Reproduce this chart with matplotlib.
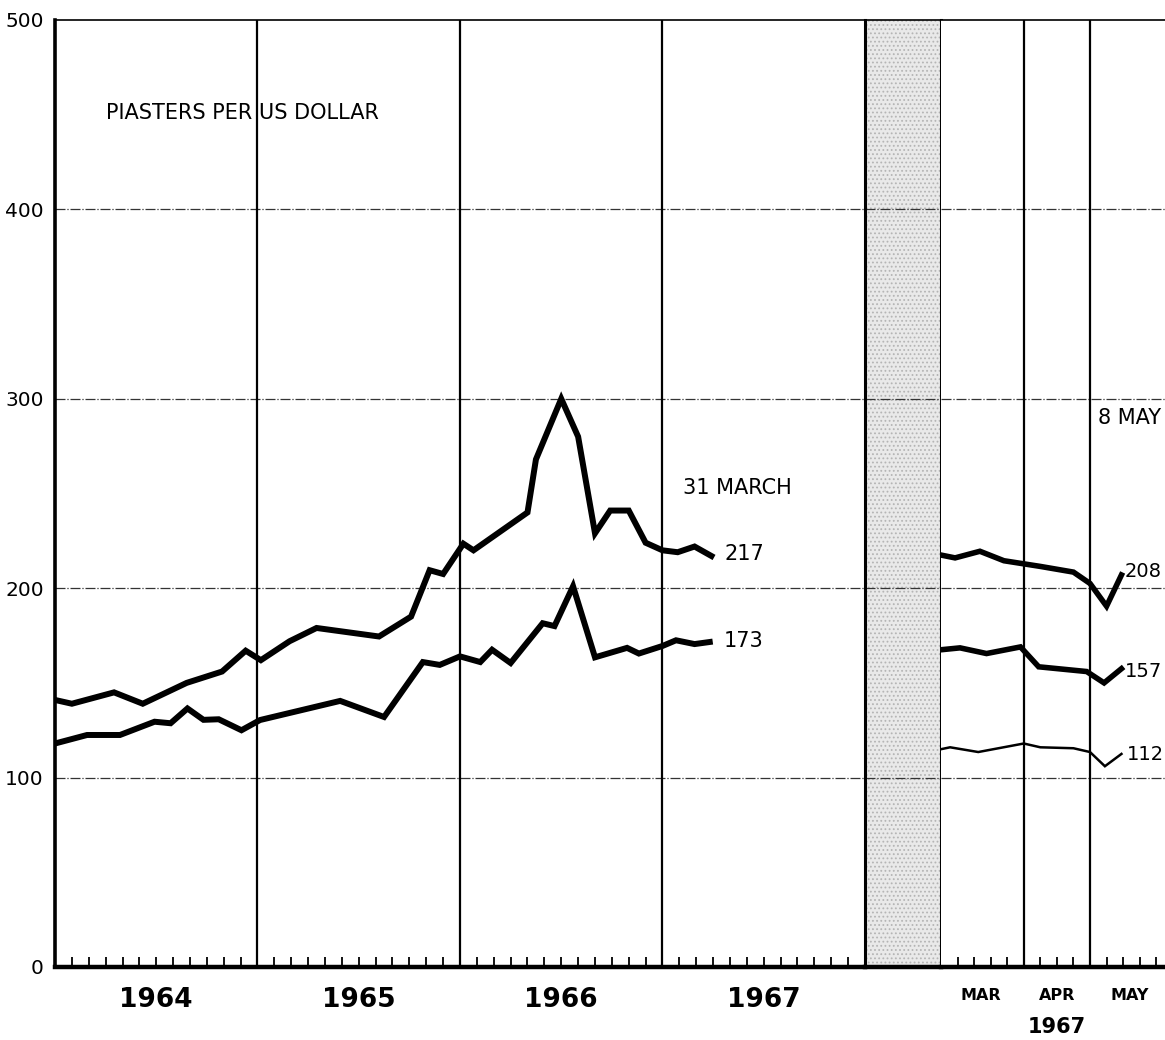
import matplotlib
matplotlib.use("Agg")
import matplotlib.pyplot as plt
import matplotlib.transforms as mtransforms

# ---- data ----------------------------------------------------------------
# left panel: months since Jan 1964
upper_months = [0, 1, 3.5, 5.2, 7.8, 9.9, 11.3, 12.2, 13.9, 15.5, 19.2, 21.1, 22.2, 23.0,
                24.2, 24.8, 28.0, 28.5, 30.0, 31.0, 32.0, 32.9, 34.0, 35.0, 36.0, 36.9,
                37.9, 38.9]
upper_vals = [141, 139, 145, 139, 150, 156, 167, 162, 172, 179, 174.5, 185, 209.5, 207.5,
              223.5, 220, 240, 268, 300, 280, 229, 241, 241, 224, 220, 219, 222, 217]
lower_months = [0, 1.9, 3.85, 5.9, 6.85, 7.85, 8.8, 9.7, 11.05, 12.15, 16.9, 19.5, 21.8,
                22.8, 24.0, 25.2, 25.9, 27.0, 28.9, 29.6, 30.7, 32.0, 33.9, 34.6, 36.0,
                36.8, 37.9, 38.8]
lower_vals = [118, 122.5, 122.5, 129.5, 128.7, 136.5, 130.5, 130.8, 125, 130.4, 140.5,
              132, 161, 159.5, 164, 161, 167.5, 160.5, 181.5, 180, 201, 163.5, 168.5,
              165.5, 169.5, 172.5, 170.5, 171.6]
left_end_labels = ["217", "173"]

# right panel: weeks since 1 March 1967
wk_upper = [0, 0.85, 2.35, 3.8, 6.0, 8.0, 9.0, 10.0, 10.9]
wk_upper_vals = [217.5, 216, 219.5, 214.5, 211.5, 208.5, 202.5, 190.5, 207]
wk_mid = [0, 1.15, 2.75, 4.8, 5.9, 8.8, 9.85, 10.9]
wk_mid_vals = [167.5, 168.5, 165.5, 169, 158.5, 156, 150, 157.5]
wk_low = [0, 0.55, 2.25, 5.0, 6.0, 8.0, 9.0, 9.9, 10.9]
wk_low_vals = [115, 116, 113.5, 118, 116, 115.5, 113.5, 106, 112.5]
right_end_labels = ["208", "157", "112"]

year_labels = ["1964", "1965", "1966", "1967"]
year_pos = [6, 18, 30, 42]
month_labels = ["MAR", "APR", "MAY"]
month_pos = [2.4, 7.0, 11.4]
y_ticks = [0, 100, 200, 300, 400, 500]

# ---- figure --------------------------------------------------------------
W, H = 1165, 1040
fig = plt.figure(figsize=(W / 100, H / 100), dpi=100)
plt.rcParams["hatch.color"] = "#8a8a8a"
plt.rcParams["hatch.linewidth"] = 0.8

bot, top = 73 / H, (H - 20) / H
ax1 = fig.add_axes([55 / W, bot, 810 / W, top - bot])
axb = fig.add_axes([865 / W, bot, 76 / W, top - bot])
ax2 = fig.add_axes([941 / W, bot, 224 / W, top - bot])

font = "DejaVu Sans"

for ax in (ax1, axb, ax2):
    ax.set_ylim(0, 500)
    for s in ax.spines.values():
        s.set_color("black")
    ax.spines["top"].set_linewidth(1.2)
    ax.spines["bottom"].set_linewidth(3.2)
    for yv in y_ticks[1:-1]:
        ax.axhline(yv, color="#333333", lw=0.9, ls=(0, (8, 1.5, 1, 1.5)), zorder=1)

# left panel
ax1.set_xlim(0, 48)
ax1.spines["left"].set_linewidth(2.6)
ax1.spines["right"].set_visible(False)
for yr in range(1, 4):
    ax1.axvline(12 * yr, color="black", lw=1.6, zorder=2)
ax1.plot(upper_months, upper_vals, color="black", lw=4.3, solid_joinstyle="miter",
         zorder=3)
ax1.plot(lower_months, lower_vals, color="black", lw=4.3, solid_joinstyle="miter",
         zorder=3)
ax1.set_xticks(range(1, 48))
ax1.tick_params(axis="x", direction="in", length=7, width=1.3, labelbottom=False)
t1 = mtransforms.blended_transform_factory(ax1.transData, fig.transFigure)
for xp, lab in zip(year_pos, year_labels):
    ax1.text(xp, 40 / H, lab, transform=t1, fontsize=19, fontweight="bold",
             family=font, ha="center", va="center")
ax1.set_yticks(y_ticks)
ax1.set_yticklabels([str(v) for v in y_ticks], fontsize=14.5, family=font)
ax1.tick_params(axis="y", length=0, pad=8)

ax1.text(3.0, 451, "PIASTERS PER US DOLLAR", fontsize=15, family=font,
         va="center", ha="left")
ax1.text(37.2, 253, "31 MARCH", fontsize=15, family=font, va="center", ha="left")
ax1.text(39.7, upper_vals[-1] + 1, left_end_labels[0], fontsize=15, family=font,
         va="center", ha="left")
ax1.text(39.6, lower_vals[-1] + 0.5, left_end_labels[1], fontsize=15, family=font,
         va="center", ha="left")

# gap band
axb.set_xlim(0, 1)
axb.axvspan(0, 1, facecolor="#e9e9e9", hatch="....", edgecolor="#b5b5b5", lw=0,
            zorder=0)
axb.spines["left"].set_linewidth(2.2)
axb.spines["right"].set_linewidth(2.2)
axb.set_xticks([])
axb.set_yticks([])

# right panel
ax2.set_xlim(0, 13.53)
ax2.spines["left"].set_visible(False)
ax2.spines["right"].set_visible(False)
for wk in (5, 9):
    ax2.axvline(wk, color="black", lw=1.6, zorder=2)
ax2.plot(wk_upper, wk_upper_vals, color="black", lw=4.0, solid_joinstyle="miter",
         zorder=3)
ax2.plot(wk_mid, wk_mid_vals, color="black", lw=4.0, solid_joinstyle="miter", zorder=3)
ax2.plot(wk_low, wk_low_vals, color="black", lw=1.8, solid_joinstyle="miter", zorder=3)
ax2.set_xticks(range(1, 14))
ax2.tick_params(axis="x", direction="in", length=7, width=1.3, labelbottom=False)
ax2.set_yticks([])

t2 = mtransforms.blended_transform_factory(ax2.transData, fig.transFigure)
for xp, lab in zip(month_pos, month_labels):
    ax2.text(xp, 44 / H, lab, transform=t2, fontsize=11.5, fontweight="bold",
             family=font, ha="center", va="center")
ax2.text(7.0, 13 / H, "1967", transform=t2, fontsize=15, fontweight="bold",
         family=font, ha="center", va="center")
ax2.text(9.5, 290, "8 MAY", fontsize=15, family=font, va="center", ha="left")
ax2.text(11.1, 209, right_end_labels[0], fontsize=14, family=font, va="center",
         ha="left")
ax2.text(11.1, 156, right_end_labels[1], fontsize=14, family=font, va="center",
         ha="left")
ax2.text(11.25, 112, right_end_labels[2], fontsize=14, family=font, va="center",
         ha="left")

fig.savefig("out.png", dpi=100)
